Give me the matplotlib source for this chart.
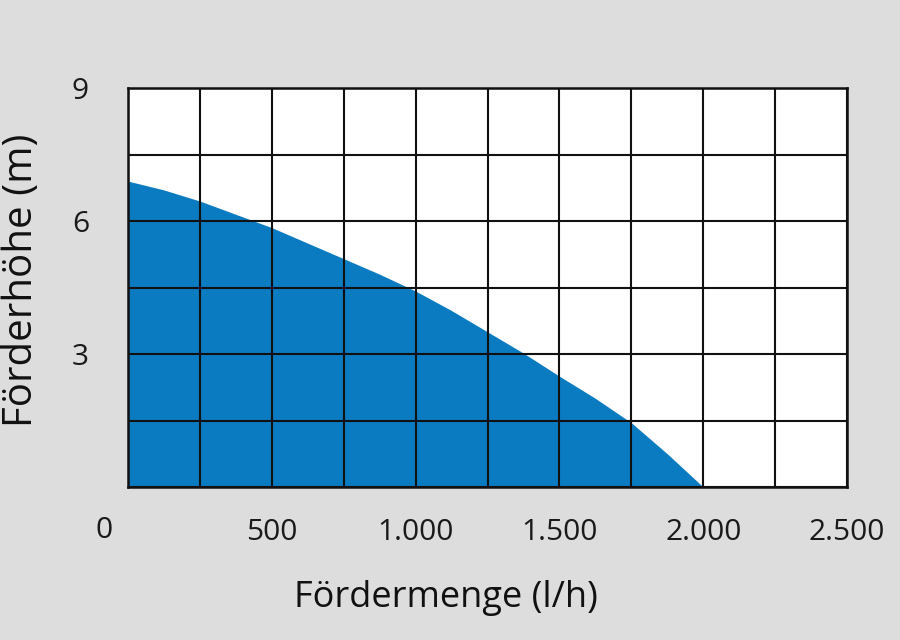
import numpy as np
import matplotlib
matplotlib.use('Agg')
import matplotlib.pyplot as plt

# pump curve
flow = [0, 125, 250, 375, 500, 625, 750, 875, 1000, 1125, 1250, 1375, 1500, 1625, 1750, 1875, 2000]
head = [6.9, 6.7, 6.45, 6.15, 5.85, 5.5, 5.15, 4.8, 4.42, 3.98, 3.5, 3.02, 2.5, 2.0, 1.45, 0.75, 0.0]

xtick_vals = [500, 1000, 1500, 2000, 2500]
xtick_text = ['500', '1.000', '1.500', '2.000', '2.500']
ytick_vals = [3, 6, 9]
ytick_text = ['3', '6', '9']

plt.rcParams['font.family'] = ['Open Sans', 'DejaVu Sans']

bg = '#dddddd'
blue = '#0b7bc1'

fig = plt.figure(figsize=(9, 6.4), dpi=100, facecolor=bg)
ax = fig.add_axes([128/900, 1-487/640, 719/900, 399/640])

ax.fill_between(flow, head, 0, color=blue, lw=0, zorder=1)

ax.set_xlim(0, 2500)
ax.set_ylim(0, 9)

# grid every 250 l/h and 1.5 m, labels only on some
xgrid = np.arange(0, 2501, 250)
ygrid = np.arange(0, 9.01, 1.5)
ax.set_xticks(xgrid)
ax.set_xticklabels([xtick_text[xtick_vals.index(v)] if v in xtick_vals else '' for v in xgrid])
ax.set_yticks(ygrid)
ax.set_yticklabels([ytick_text[ytick_vals.index(v)] if v in ytick_vals else '' for v in ygrid])
ax.tick_params(length=0, labelsize=21.5, colors='#1a1a1a')
ax.tick_params(axis='x', pad=22)
ax.tick_params(axis='y', pad=28)
ax.grid(True, color='#111111', lw=1.5)
ax.set_axisbelow(False)
for s in ax.spines.values():
    s.set_linewidth(1.8)
    s.set_color('#111111')
    s.set_zorder(3)

# origin label sits left of the axis corner
ax.annotate('0', xy=(0, 0), xycoords='data', xytext=(-24, -43),
            textcoords='offset pixels', ha='center', va='center',
            fontsize=21.5, color='#1a1a1a')

fig.text(446/900, 1-598/640, 'Fördermenge (l/h)', ha='center', va='center',
         fontsize=26, color='#111111')
fig.text(22/900, 1-280/640, 'Förderhöhe (m)', ha='center', va='center',
         rotation=90, fontsize=29, color='#111111')

fig.savefig('out.png', dpi=100, facecolor=bg)
